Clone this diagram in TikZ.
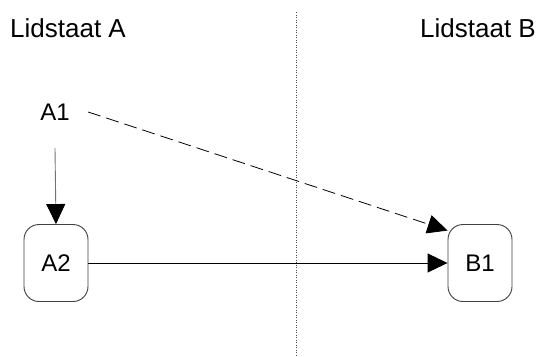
\documentclass[tikz,border=0pt]{standalone}
\usepackage{fontspec}
\setmainfont{Liberation Sans}
\usetikzlibrary{arrows.meta}
\begin{document}
\begin{tikzpicture}[x=1pt,y=-1pt,
  statebox/.style={draw=black!75, line width=0.9pt, rounded corners=15pt, minimum width=64pt, minimum height=77pt, inner sep=0pt, font=\fontsize{24}{28}\selectfont},
  plainlabel/.style={inner sep=0pt, font=\fontsize{24}{28}\selectfont},
  regionlabel/.style={inner sep=0pt, font=\fontsize{26}{30}\selectfont},
  bigtip/.style={-{Triangle[length=20pt,width=19pt,color=black]}},
  conn/.style={line width=0.9pt, bigtip},
  border/.style={draw=black!70, line width=0.9pt, dash pattern=on 1pt off 1.5pt}]
\useasboundingbox (0,0) rectangle (537,356);
\node[regionlabel, anchor=base west] (la) at (10,37) {Lidstaat A};
\node[regionlabel, anchor=base east] (lb) at (536,37) {Lidstaat B};
\coordinate (bt) at (296,12);
\coordinate (bb) at (296,356);
\draw[border] (bt) -- (bb);
\node[plainlabel, minimum width=66pt, minimum height=72pt] (A1) at (55,112) {A1};
\node[statebox] (A2) at (56,263) {A2};
\node[statebox] (B1) at (480,263) {B1};
\draw[conn, draw=black!55] (A1.south) -- (A2.north);
\draw[conn] (A2.east) -- (B1.west);
\draw[conn, line width=0.8pt, dash pattern=on 13pt off 6pt] (A1.east) -- (B1.135);
\end{tikzpicture}
\end{document}
